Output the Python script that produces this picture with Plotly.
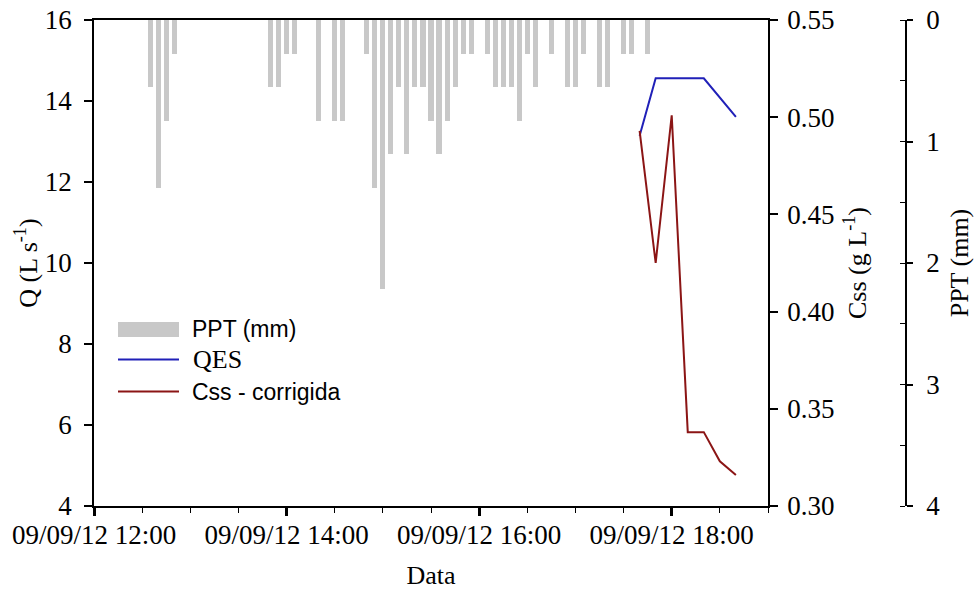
import plotly.graph_objects as go

# Rainfall (5-min totals, mm)
ppt_time = [
    "2012-09-09 12:35", "2012-09-09 12:40", "2012-09-09 12:45", "2012-09-09 12:50",
    "2012-09-09 13:50", "2012-09-09 13:55", "2012-09-09 14:00", "2012-09-09 14:05",
    "2012-09-09 14:20", "2012-09-09 14:30", "2012-09-09 14:35", "2012-09-09 14:50",
    "2012-09-09 14:55", "2012-09-09 15:00", "2012-09-09 15:05", "2012-09-09 15:10",
    "2012-09-09 15:15", "2012-09-09 15:20", "2012-09-09 15:25", "2012-09-09 15:30",
    "2012-09-09 15:35", "2012-09-09 15:40", "2012-09-09 15:45", "2012-09-09 15:50",
    "2012-09-09 15:55", "2012-09-09 16:05", "2012-09-09 16:10", "2012-09-09 16:15",
    "2012-09-09 16:20", "2012-09-09 16:25", "2012-09-09 16:30", "2012-09-09 16:35",
    "2012-09-09 16:45", "2012-09-09 16:55", "2012-09-09 17:00", "2012-09-09 17:05",
    "2012-09-09 17:15", "2012-09-09 17:20", "2012-09-09 17:30", "2012-09-09 17:35",
    "2012-09-09 17:45",
]
ppt_mm = [
    0.55, 1.38, 0.83, 0.28,
    0.55, 0.55, 0.28, 0.28,
    0.83, 0.83, 0.83, 0.28,
    1.38, 2.21, 1.10, 0.55,
    1.10, 0.55, 0.55, 0.83,
    1.10, 0.83, 0.55, 0.28,
    0.28, 0.28, 0.55, 0.55,
    0.55, 0.83, 0.28, 0.55,
    0.28, 0.55, 0.55, 0.28,
    0.55, 0.55, 0.28, 0.28,
    0.28,
]

# Discharge QES (L/s)
qes_time = ["2012-09-09 17:40", "2012-09-09 17:50", "2012-09-09 18:20", "2012-09-09 18:40"]
qes_q = [13.14, 14.56, 14.56, 13.61]

# Corrected suspended sediment concentration (g/L)
css_time = ["2012-09-09 17:40", "2012-09-09 17:50", "2012-09-09 18:00", "2012-09-09 18:10",
            "2012-09-09 18:20", "2012-09-09 18:30", "2012-09-09 18:40"]
css_gl = [0.493, 0.425, 0.501, 0.338, 0.338, 0.323, 0.316]

SERIF = "Liberation Serif"
SANS = "Liberation Sans"
W, H = 979, 593
ML, MR, MT, MB = 94, 20, 20, 87
PW, PH = W - ML - MR, H - MT - MB


def px(x):
    return (x - ML) / PW


def py(y):
    return (H - MB - y) / PH


fig = go.Figure()
fig.add_trace(go.Bar(x=ppt_time, y=ppt_mm, yaxis="y3", width=190000,
                     marker=dict(color="#C8C8C8", line=dict(width=0)),
                     name="PPT (mm)", showlegend=False))
fig.add_trace(go.Scatter(x=qes_time, y=qes_q, mode="lines", name="QES",
                         line=dict(color="#2020B8", width=2), showlegend=False))
fig.add_trace(go.Scatter(x=css_time, y=css_gl, yaxis="y2", mode="lines", name="Css - corrigida",
                         line=dict(color="#8B1515", width=2), showlegend=False))

tickfont = dict(family=SERIF, size=27, color="black")
titlefont = dict(family=SERIF, size=26, color="black")

fig.update_layout(
    template="none",
    width=W, height=H,
    margin=dict(l=ML, r=MR, t=MT, b=MB, autoexpand=False),
    paper_bgcolor="white", plot_bgcolor="white",
    bargap=0,
    xaxis=dict(
        domain=[0, px(768)],
        type="date", automargin=False,
        range=["2012-09-09 12:00", "2012-09-09 19:00"],
        tick0="2012-09-09 12:00", dtick=7200000,
        tickformat="%d/%m/%y %H:%M",
        ticks="outside", ticklen=8, tickwidth=3, tickcolor="black",
        ticklabelstandoff=-4,
        minor=dict(dtick=1800000, ticks="outside", ticklen=5, tickwidth=1, tickcolor="black",
                   showgrid=False),
        showline=True, linecolor="black", linewidth=1.5, mirror=True,
        showgrid=False, zeroline=False,
        tickfont=tickfont,
        title=dict(text="Data", font=titlefont, standoff=17),
    ),
    yaxis=dict(
        range=[4, 16], dtick=2, automargin=False,
        ticks="outside", ticklen=8, tickwidth=1.5, tickcolor="black",
        ticklabelstandoff=7,
        showline=True, linecolor="black", linewidth=1.5,
        showgrid=False, zeroline=False,
        tickfont=tickfont,
        title=dict(text="Q (L s<sup>-1</sup>)", font=titlefont, standoff=0),
    ),
    yaxis2=dict(
        overlaying="y", side="right", anchor="x", automargin=False,
        range=[0.30, 0.55], dtick=0.05, tickformat=".2f",
        ticks="outside", ticklen=8, tickwidth=1.5, tickcolor="black",
        ticklabelstandoff=4,
        showline=True, linecolor="black", linewidth=1.5,
        showgrid=False, zeroline=False,
        tickfont=tickfont,
        title=dict(text="Css (g L<sup>-1</sup>)", font=titlefont, standoff=14),
    ),
    yaxis3=dict(
        overlaying="y", side="right", anchor="free", position=px(906), automargin=False,
        range=[4, 0], dtick=1,
        ticks="outside", ticklen=6, tickwidth=1.5, tickcolor="black",
        ticklabelstandoff=8,
        minor=dict(dtick=0.5, ticks="inside", ticklen=5, tickwidth=1, tickcolor="black",
                   showgrid=False),
        showline=True, linecolor="black", linewidth=1.5,
        showgrid=False, zeroline=False,
        tickfont=tickfont,
        title=dict(text="PPT (mm)", font=titlefont, standoff=10),
    ),
)

# Legend keys and labels
shapes = [
    dict(type="rect", xref="paper", yref="paper", x0=px(118), x1=px(179), y0=py(337), y1=py(322),
         fillcolor="#C8C8C8", line=dict(width=0)),
    dict(type="line", xref="paper", yref="paper", x0=px(118), x1=px(179), y0=py(359.5), y1=py(359.5),
         line=dict(color="#2020B8", width=2)),
    dict(type="line", xref="paper", yref="paper", x0=px(118), x1=px(179), y0=py(391.5), y1=py(391.5),
         line=dict(color="#8B1515", width=2)),
]
annotations = [
    dict(text="PPT (mm)", x=px(190), y=py(329), font=dict(family=SANS, size=23, color="black")),
    dict(text="QES", x=px(191), y=py(360), font=dict(family=SERIF, size=26, color="black")),
    dict(text="Css - corrigida", x=px(190), y=py(392), font=dict(family=SANS, size=23, color="black")),
]
for a in annotations:
    a.update(xref="paper", yref="paper", xanchor="left", yanchor="middle", showarrow=False)
fig.update_layout(shapes=shapes, annotations=annotations)

fig.write_html("out.html")
